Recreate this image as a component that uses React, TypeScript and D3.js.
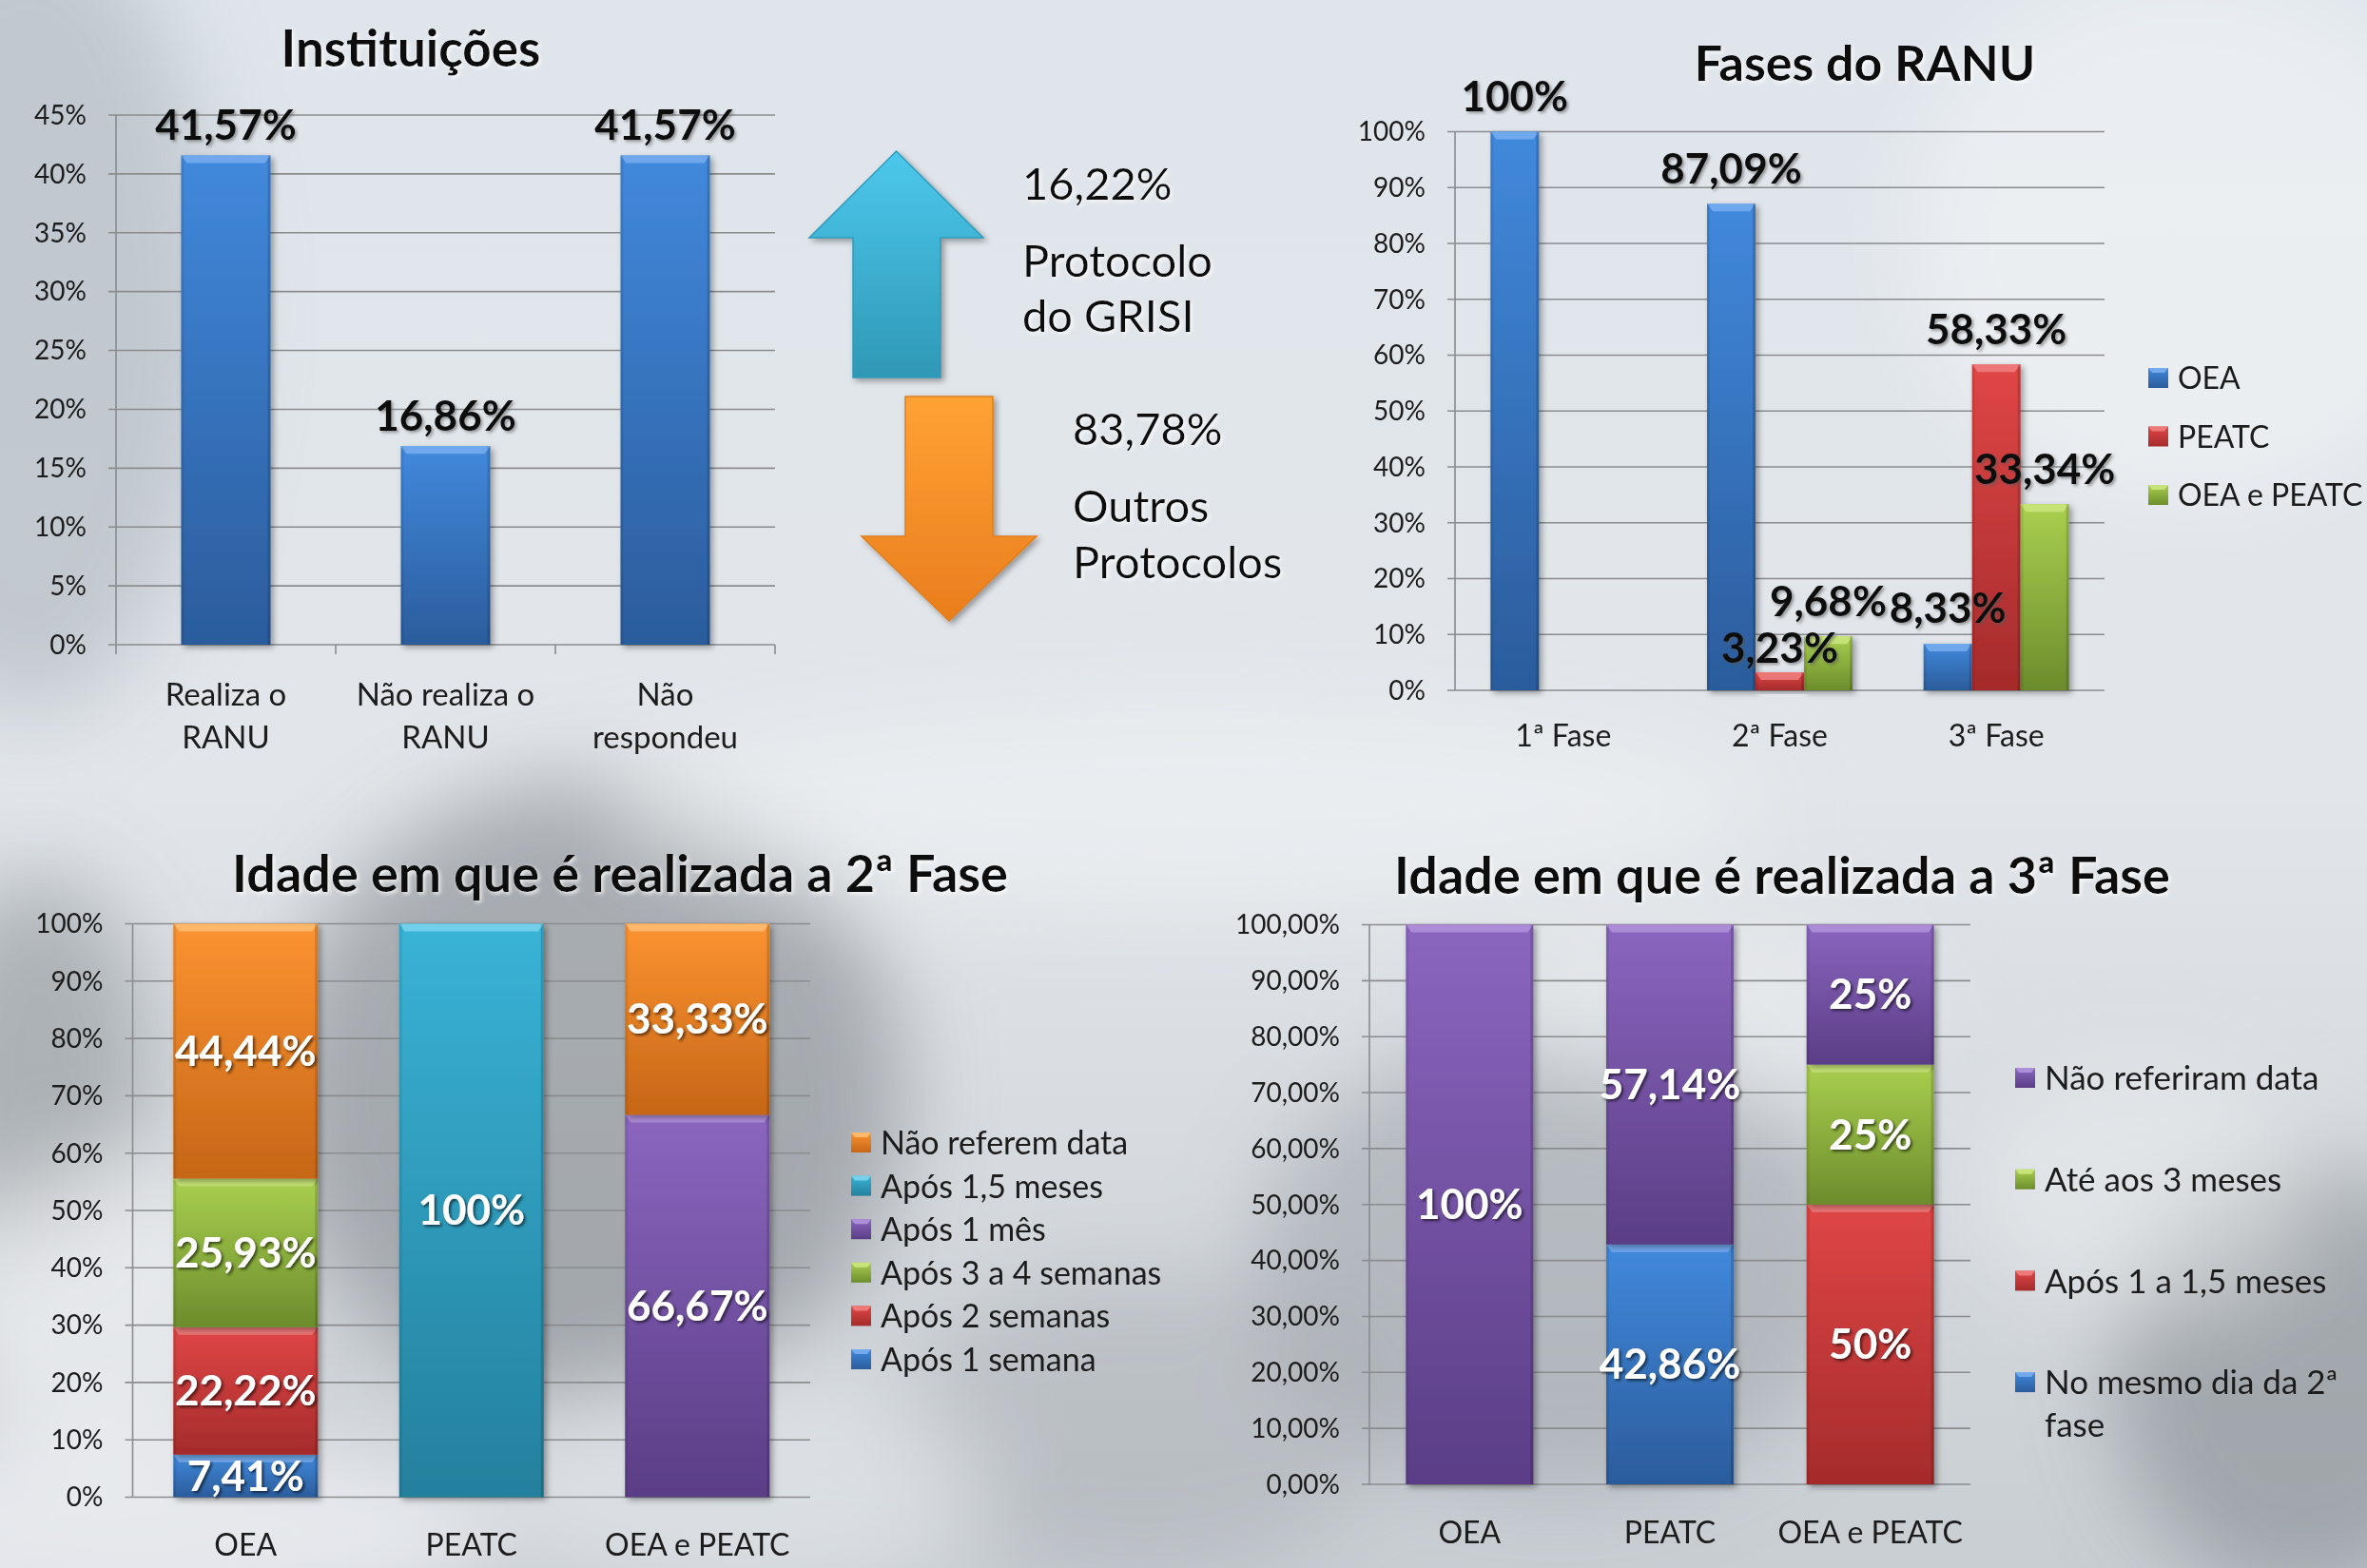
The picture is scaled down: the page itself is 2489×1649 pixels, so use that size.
import React from "react";
import * as d3 from "d3";

const W = 2489;
const H = 1649;
const FONT = "Lato, 'Open Sans', 'DejaVu Sans', sans-serif";

// ---------- Chart 1: Instituições ----------
const instCategories = [["Realiza o", "RANU"], ["Não realiza o", "RANU"], ["Não", "respondeu"]];
const instValues = [41.57, 16.86, 41.57];
const instTicks = [0, 5, 10, 15, 20, 25, 30, 35, 40, 45];

// ---------- Arrows ----------
const protocolUpText = ["16,22%", "Protocolo", "do GRISI"];
const protocolDownText = ["83,78%", "Outros", "Protocolos"];

// ---------- Chart 2: Fases do RANU ----------
const phaseCategories = ["1ª Fase", "2ª Fase", "3ª Fase"];
const phaseSeries = ["OEA", "PEATC", "OEA e PEATC"];
const phaseOEA = [100, 87.09, 8.33];
const phasePEATC = [0, 3.23, 58.33];
const phaseBoth = [0, 9.68, 33.34];
const phaseTicks = [0, 10, 20, 30, 40, 50, 60, 70, 80, 90, 100];

// ---------- Chart 3: Idade 2ª Fase ----------
const age2Categories = ["OEA", "PEATC", "OEA e PEATC"];
const age2Series = ["Após 1 semana", "Após 2 semanas", "Após 3 a 4 semanas", "Após 1 mês", "Após 1,5 meses", "Não referem data"];
const age2Week1 = [7.41, 0, 0];
const age2Week2 = [22.22, 0, 0];
const age2Week34 = [25.93, 0, 0];
const age2Month1 = [0, 0, 66.67];
const age2Month15 = [0, 100, 0];
const age2NoDate = [44.44, 0, 33.33];
const age2Ticks = [0, 10, 20, 30, 40, 50, 60, 70, 80, 90, 100];

// ---------- Chart 4: Idade 3ª Fase ----------
const age3Categories = ["OEA", "PEATC", "OEA e PEATC"];
const age3Series = [["No mesmo dia da 2ª", "fase"], ["Após 1 a 1,5 meses"], ["Até aos 3 meses"], ["Não referiram data"]];
const age3SameDay = [0, 42.86, 0];
const age3Month = [0, 0, 50];
const age3Month3 = [0, 0, 25];
const age3NoDate = [100, 57.14, 25];
const age3Ticks = [0, 10, 20, 30, 40, 50, 60, 70, 80, 90, 100];

const COLORS: Record<string, [string, string]> = {
  blue: ["#4189dc", "#2b5c9c"],
  red: ["#e04646", "#a52b2b"],
  green: ["#a9cf4f", "#6c8c2c"],
  purple: ["#8b66bf", "#5a3d86"],
  cyan: ["#39b3d6", "#24809d"],
  orange: ["#fc9331", "#c66617"],
};
const LIGHT: Record<string, string> = {
  blue: "#78aef0",
  red: "#f08080",
  green: "#cbe67f",
  purple: "#b193dc",
  cyan: "#7dd5ee",
  orange: "#ffbe73",
};

const age2Colors = ["blue", "red", "green", "purple", "cyan", "orange"];
const age3Colors = ["blue", "red", "green", "purple"];
const phaseColors = ["blue", "red", "green"];

const fmtPct = (v: number) => (Number.isInteger(v) ? `${v}%` : `${v.toFixed(2).replace(".", ",")}%`);
const fmtPct2 = (v: number) => `${v.toFixed(2).replace(".", ",")}%`;

function Bar({ x, y, w, h, color, shadow = true }: { x: number; y: number; w: number; h: number; color: string; shadow?: boolean }) {
  if (h <= 0) return null;
  const b = Math.min(8, h / 2);
  const s = Math.min(6, w / 4);
  return (
    <g filter={shadow ? "url(#barShadow)" : undefined}>
      <rect x={x} y={y} width={w} height={h} fill={`url(#g-${color})`} />
      <polygon points={`${x},${y} ${x + w},${y} ${x + w - s},${y + b} ${x + s},${y + b}`} fill={LIGHT[color]} opacity={0.85} />
      <rect x={x} y={y} width={3} height={h} fill="#000" opacity={0.08} />
      <rect x={x + w - 3} y={y} width={3} height={h} fill="#000" opacity={0.15} />
    </g>
  );
}

function LegendSwatch({ x, y, color, size }: { x: number; y: number; color: string; size: number }) {
  return (
    <g>
      <rect x={x} y={y} width={size} height={size} fill={`url(#g-${color})`} />
      <polygon points={`${x},${y} ${x + size},${y} ${x + size - 4},${y + 5} ${x + 4},${y + 5}`} fill={LIGHT[color]} opacity={0.9} />
    </g>
  );
}

function Background() {
  return (
    <g>
      <rect x={0} y={0} width={W} height={H} fill="url(#bgGrad)" />
      <g filter="url(#bigBlur)">
        <ellipse cx={30} cy={330} rx={200} ry={420} fill="#a3abb3" opacity={0.5} />
        <ellipse cx={2300} cy={250} rx={300} ry={280} fill="#ffffff" opacity={0.35} />
        <ellipse cx={620} cy={1150} rx={330} ry={330} fill="#8a8f94" opacity={0.65} />
        <ellipse cx={40} cy={1120} rx={120} ry={200} fill="#7f858a" opacity={0.5} />
        <ellipse cx={110} cy={1380} rx={150} ry={160} fill="#f4f5f6" opacity={0.6} />
        <ellipse cx={1640} cy={1330} rx={320} ry={240} fill="#969ca1" opacity={0.5} />
        <ellipse cx={2420} cy={1450} rx={200} ry={230} fill="#7e8489" opacity={0.55} />
        <ellipse cx={1200} cy={1500} rx={260} ry={160} fill="#9ea3a8" opacity={0.4} />
        <ellipse cx={150} cy={1610} rx={380} ry={100} fill="#f2f4f6" opacity={0.7} />
        <ellipse cx={780} cy={1560} rx={260} ry={120} fill="#e8ebee" opacity={0.55} />
        <ellipse cx={1800} cy={1060} rx={230} ry={90} fill="#f0f2f4" opacity={0.45} />
        <ellipse cx={2250} cy={1250} rx={180} ry={130} fill="#eef0f2" opacity={0.5} />
        <ellipse cx={1250} cy={850} rx={600} ry={110} fill="#eef1f4" opacity={0.6} />
      </g>
    </g>
  );
}

function YAxis({ scale, ticks, x0, x1, fmt, fs = 28 }: { scale: d3.ScaleLinear<number, number>; ticks: number[]; x0: number; x1: number; fmt: (v: number) => string; fs?: number }) {
  return (
    <g>
      {ticks.map((t) => (
        <g key={t}>
          <line x1={x0 - 8} x2={x1} y1={scale(t)} y2={scale(t)} stroke="#8a8c8e" strokeWidth={1.6} />
          <text x={x0 - 31} y={scale(t)} dy="0.35em" textAnchor="end" fontSize={fs} fill="#1c1c1c" fontFamily={FONT}>
            {fmt(t)}
          </text>
        </g>
      ))}
      <line x1={x0} x2={x0} y1={scale(ticks[ticks.length - 1])} y2={scale(0)} stroke="#8a8c8e" strokeWidth={1.6} />
    </g>
  );
}

function ChartInstituicoes() {
  const x = d3.scaleBand<number>().domain(d3.range(instValues.length)).range([122, 815]).paddingInner(0.593).paddingOuter(0.2965);
  const y = d3.scaleLinear().domain([0, 45]).range([678, 121]);
  const step = x.step();
  return (
    <g>
      <text x={432} y={70} textAnchor="middle" fontSize={53} fontWeight="bold" fontFamily={FONT} fill="#111" filter="url(#titleShadow)">Instituições</text>
      <YAxis scale={y} ticks={instTicks} x0={122} x1={815} fmt={(v) => `${v}%`} />
      {d3.range(instValues.length + 1).map((i) => (
        <line key={i} x1={122 + i * step} x2={122 + i * step} y1={678} y2={688} stroke="#8a8c8e" strokeWidth={1.6} />
      ))}
      {instValues.map((v, i) => (
        <Bar key={i} x={x(i)!} y={y(v)} w={x.bandwidth()} h={y(0) - y(v)} color="blue" />
      ))}
      {instValues.map((v, i) => (
        <text key={i} x={x(i)! + x.bandwidth() / 2} y={y(v) - 32} dy="0.35em" textAnchor="middle" fontSize={44} fontWeight="bold" fontFamily={FONT} fill="#111" filter="url(#darkLabel)">
          {fmtPct(v)}
        </text>
      ))}
      {instCategories.map((lines, i) => (
        <text key={i} x={x(i)! + x.bandwidth() / 2} y={730} textAnchor="middle" fontSize={33} fontFamily={FONT} fill="#1c1c1c">
          {lines.map((l, j) => (
            <tspan key={j} x={x(i)! + x.bandwidth() / 2} dy={j === 0 ? "0.35em" : 45}>{l}</tspan>
          ))}
        </text>
      ))}
    </g>
  );
}

function Arrows() {
  const upTop = 159, upHeadBase = 250, upBottom = 397, upL = 851, upR = 1034, upSL = 897, upSR = 989;
  const upTip = (upL + upR) / 2;
  const dnTop = 417, dnHead = 564, dnTipY = 653, dnL = 906, dnR = 1090, dnSL = 952, dnSR = 1044;
  const dnTip = (dnL + dnR) / 2;
  const up = d3.path();
  up.moveTo(upTip, upTop); up.lineTo(upR, upHeadBase); up.lineTo(upSR, upHeadBase); up.lineTo(upSR, upBottom);
  up.lineTo(upSL, upBottom); up.lineTo(upSL, upHeadBase); up.lineTo(upL, upHeadBase); up.closePath();
  const dn = d3.path();
  dn.moveTo(dnSL, dnTop); dn.lineTo(dnSR, dnTop); dn.lineTo(dnSR, dnHead); dn.lineTo(dnR, dnHead);
  dn.lineTo(dnTip, dnTipY); dn.lineTo(dnL, dnHead); dn.lineTo(dnSL, dnHead); dn.closePath();
  return (
    <g>
      <path d={up.toString()} fill="url(#arrowCyan)" stroke="#2e9ab9" strokeWidth={1.5} filter="url(#barShadow)" />
      <path d={dn.toString()} fill="url(#arrowOrange)" stroke="#e07d1c" strokeWidth={1.5} filter="url(#barShadow)" />
      <g fontFamily={FONT} fontSize={47} fill="#111" filter="url(#titleShadow)">
        {protocolUpText.map((t, i) => (
          <text key={i} x={1075} y={[210, 291, 349][i]}>{t}</text>
        ))}
        {protocolDownText.map((t, i) => (
          <text key={i} x={1128} y={[468, 549, 608][i]}>{t}</text>
        ))}
      </g>
    </g>
  );
}

function ChartFases() {
  const x0 = 1530, x1 = 2213;
  const x = d3.scaleBand<number>().domain(d3.range(phaseCategories.length)).range([x0, x1]).paddingInner(0.328).paddingOuter(0.164);
  const xs = d3.scaleBand<number>().domain(d3.range(phaseSeries.length)).range([0, x.bandwidth()]);
  const y = d3.scaleLinear().domain([0, 100]).range([726, 138.5]);
  const seriesValues = [phaseOEA, phasePEATC, phaseBoth];
  const labelGap = (v: number) => (y(0) - y(v) < 30 ? 25 : 37);
  return (
    <g>
      <text x={1961} y={85} textAnchor="middle" fontSize={52} fontWeight="bold" fontFamily={FONT} fill="#111" filter="url(#titleShadow)">Fases do RANU</text>
      <YAxis scale={y} ticks={phaseTicks} x0={x0} x1={x1} fmt={(v) => `${v}%`} />
      {phaseCategories.map((c, i) =>
        seriesValues.map((vals, s) => (
          <Bar key={`${i}-${s}`} x={x(i)! + xs(s)!} y={y(vals[i])} w={xs.bandwidth()} h={y(0) - y(vals[i])} color={phaseColors[s]} />
        ))
      )}
      {phaseCategories.map((c, i) =>
        seriesValues.map((vals, s) =>
          vals[i] > 0 ? (
            <text key={`${i}-${s}`} x={x(i)! + xs(s)! + xs.bandwidth() / 2} y={y(vals[i]) - labelGap(vals[i])} dy="0.35em" textAnchor="middle" fontSize={44} fontWeight="bold" fontFamily={FONT} fill="#111" filter="url(#darkLabel)">
              {fmtPct(vals[i])}
            </text>
          ) : null
        )
      )}
      {phaseCategories.map((c, i) => (
        <text key={c} x={x(i)! + x.bandwidth() / 2} y={774} dy="0.35em" textAnchor="middle" fontSize={32} fontFamily={FONT} fill="#1c1c1c">{c}</text>
      ))}
      {phaseSeries.map((s, i) => (
        <g key={s}>
          <LegendSwatch x={2259} y={398 + i * 61.5 - 11} color={phaseColors[i]} size={21} />
          <text x={2290} y={398 + i * 61.5} dy="0.35em" fontSize={32} fontFamily={FONT} fill="#1c1c1c">{s}</text>
        </g>
      ))}
    </g>
  );
}

function StackedChart({
  title, titleX, titleY, categories, seriesValues, colors, legend, x0, x1, yTop, yBottom, padding, ticks, tickFmt,
  legendX, legendY0, legendStep, legendFs, catY,
}: {
  title: string; titleX: number; titleY: number; categories: string[]; seriesValues: number[][]; colors: string[];
  legend: string[][]; x0: number; x1: number; yTop: number; yBottom: number; padding: number; ticks: number[];
  tickFmt: (v: number) => string; legendX: number; legendY0: number; legendStep: number; legendFs: number; catY: number;
}) {
  const x = d3.scaleBand<number>().domain(d3.range(categories.length)).range([x0, x1]).paddingInner(padding).paddingOuter(padding / 2);
  const y = d3.scaleLinear().domain([0, 100]).range([yBottom, yTop]);
  const rows = categories.map((c, i) => {
    const o: Record<string, number> = {};
    seriesValues.forEach((vals, s) => (o[`s${s}`] = vals[i]));
    return o;
  });
  const stack = d3.stack<Record<string, number>>().keys(seriesValues.map((_, s) => `s${s}`));
  const layers = stack(rows);
  return (
    <g>
      <text x={titleX} y={titleY} textAnchor="middle" fontSize={54} fontWeight="bold" fontFamily={FONT} fill="#111" filter="url(#titleShadow)">{title}</text>
      <YAxis scale={y} ticks={ticks} x0={x0} x1={x1} fmt={tickFmt} />
      {layers.map((layer, s) =>
        layer.map((d, i) => (
          <Bar key={`${s}-${i}`} x={x(i)!} y={y(d[1])} w={x.bandwidth()} h={y(d[0]) - y(d[1])} color={colors[s]} />
        ))
      )}
      {layers.map((layer, s) =>
        layer.map((d, i) =>
          d[1] - d[0] > 0 ? (
            <text key={`${s}-${i}`} x={x(i)! + x.bandwidth() / 2} y={y((d[0] + d[1]) / 2)} dy="0.35em" textAnchor="middle" fontSize={44} fontWeight="bold" fontFamily={FONT} fill="#fff" filter="url(#whiteLabel)">
              {fmtPct(d[1] - d[0])}
            </text>
          ) : null
        )
      )}
      {categories.map((c, i) => (
        <text key={c} x={x(i)! + x.bandwidth() / 2} y={catY} dy="0.35em" textAnchor="middle" fontSize={32} fontFamily={FONT} fill="#1c1c1c">{c}</text>
      ))}
      {legend.map((lines, idx) => {
        const s = legend.length - 1 - idx;
        const ly = legendY0 + idx * legendStep;
        return (
          <g key={idx}>
            <LegendSwatch x={legendX} y={ly - 11} color={colors[s]} size={21} />
            <text x={legendX + 31} y={ly} fontSize={legendFs} fontFamily={FONT} fill="#1c1c1c">
              {lines.map((l, j) => (
                <tspan key={j} x={legendX + 31} dy={j === 0 ? "0.35em" : 45}>{l}</tspan>
              ))}
            </text>
          </g>
        );
      })}
    </g>
  );
}

export default function App() {
  return (
    <svg width={W} height={H} viewBox={`0 0 ${W} ${H}`} style={{ position: "absolute", left: 0, top: 0, display: "block" }}>
      <defs>
        <linearGradient id="bgGrad" x1="0" y1="0" x2="0" y2="1">
          <stop offset="0" stopColor="#dfe5eb" />
          <stop offset="0.5" stopColor="#e2e6ea" />
          <stop offset="1" stopColor="#c9ced3" />
        </linearGradient>
        <filter id="bigBlur" x="-50%" y="-50%" width="200%" height="200%">
          <feGaussianBlur stdDeviation="45" />
        </filter>
        {Object.entries(COLORS).map(([k, [a, b]]) => (
          <linearGradient key={k} id={`g-${k}`} x1="0" y1="0" x2="0" y2="1">
            <stop offset="0" stopColor={a} />
            <stop offset="1" stopColor={b} />
          </linearGradient>
        ))}
        <linearGradient id="arrowCyan" x1="0" y1="0" x2="0" y2="1">
          <stop offset="0" stopColor="#4cc8ec" />
          <stop offset="1" stopColor="#2f98b6" />
        </linearGradient>
        <linearGradient id="arrowOrange" x1="0" y1="0" x2="0" y2="1">
          <stop offset="0" stopColor="#ffa234" />
          <stop offset="1" stopColor="#e97d1d" />
        </linearGradient>
        <filter id="barShadow" x="-20%" y="-20%" width="140%" height="140%">
          <feDropShadow dx="3" dy="3" stdDeviation="3" floodColor="#000" floodOpacity="0.35" />
        </filter>
        <filter id="darkLabel" x="-20%" y="-30%" width="140%" height="160%">
          <feDropShadow dx="2" dy="2" stdDeviation="1.5" floodColor="#555" floodOpacity="0.55" />
        </filter>
        <filter id="whiteLabel" x="-20%" y="-30%" width="140%" height="160%">
          <feDropShadow dx="2" dy="2" stdDeviation="1.5" floodColor="#000" floodOpacity="0.6" />
        </filter>
        <filter id="titleShadow" x="-20%" y="-30%" width="140%" height="160%">
          <feDropShadow dx="2" dy="2" stdDeviation="2" floodColor="#fff" floodOpacity="0.8" />
        </filter>
      </defs>
      <Background />
      <ChartInstituicoes />
      <Arrows />
      <ChartFases />
      <StackedChart
        title="Idade em que é realizada a 2ª Fase" titleX={652} titleY={938}
        categories={age2Categories}
        seriesValues={[age2Week1, age2Week2, age2Week34, age2Month1, age2Month15, age2NoDate]}
        colors={age2Colors}
        legend={age2Series.map((s) => [s]).reverse()}
        x0={139.5} x1={852} yTop={971.5} yBottom={1574.5} padding={0.36}
        ticks={age2Ticks} tickFmt={(v) => `${v}%`}
        legendX={895} legendY0={1202} legendStep={45.6} legendFs={34} catY={1625}
      />
      <StackedChart
        title="Idade em que é realizada a 3ª Fase" titleX={1874} titleY={940}
        categories={age3Categories}
        seriesValues={[age3SameDay, age3Month, age3Month3, age3NoDate]}
        colors={age3Colors}
        legend={[...age3Series].reverse()}
        x0={1440} x1={2072} yTop={972.5} yBottom={1561} padding={0.364}
        ticks={age3Ticks} tickFmt={fmtPct2}
        legendX={2119} legendY0={1134} legendStep={106.7} legendFs={35} catY={1612}
      />
    </svg>
  );
}
